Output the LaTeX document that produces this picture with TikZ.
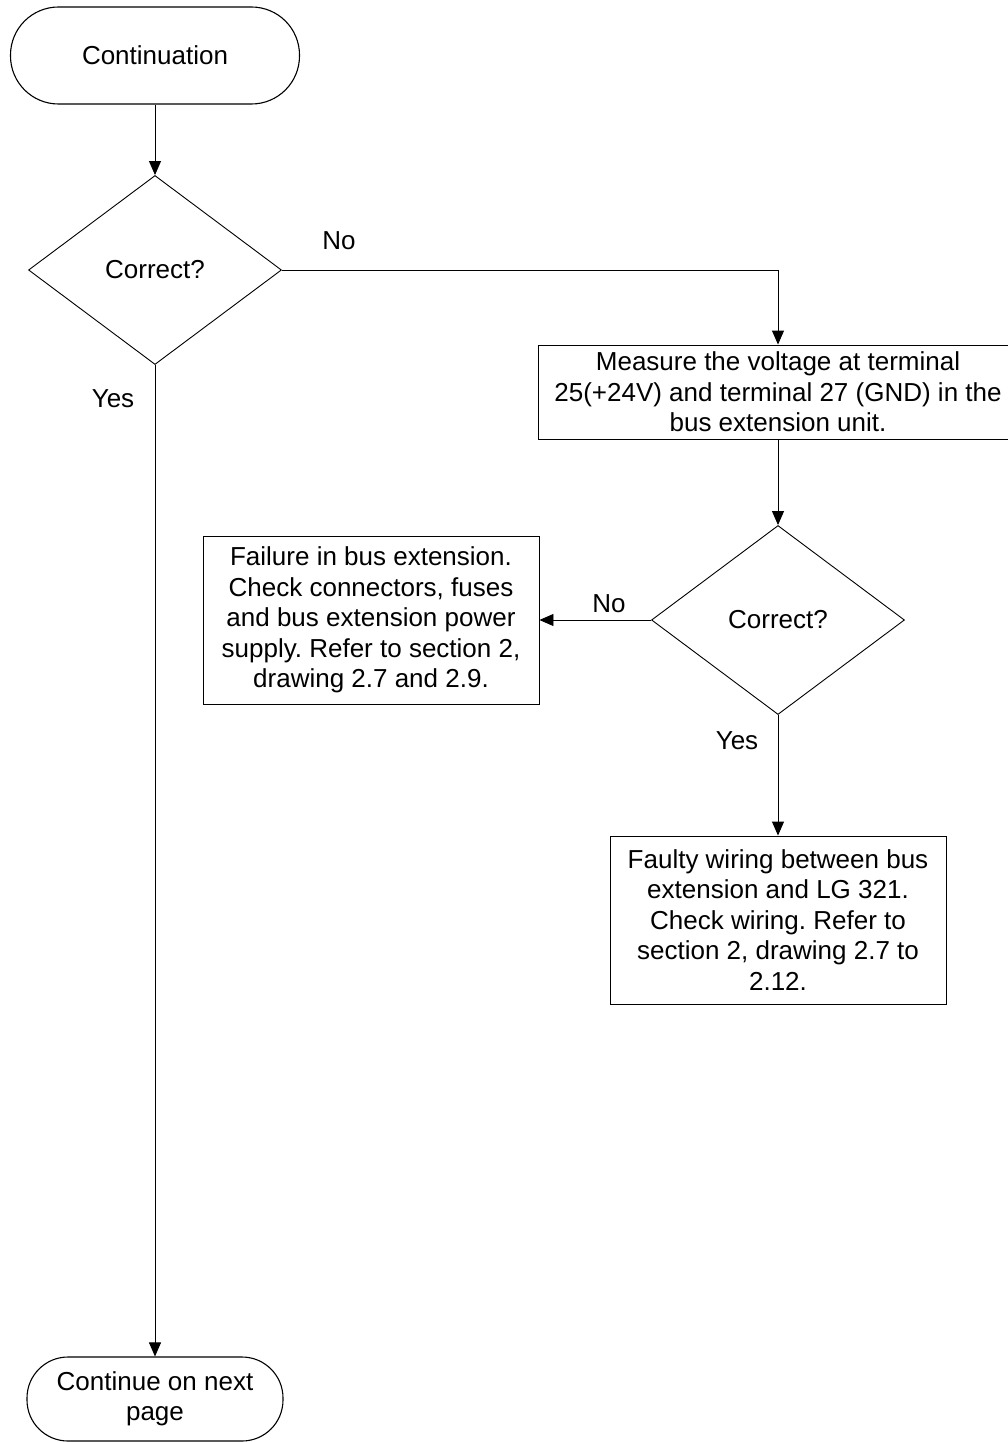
\documentclass[tikz,border=0pt]{standalone}
\usepackage{fontspec}
\setmainfont{Liberation Sans}
\usetikzlibrary{shapes.geometric,arrows.meta}
\frenchspacing

\begin{document}
\begin{tikzpicture}[x=1pt,y=-1pt,
  every node/.style={font=\fontsize{26}{30.5}\selectfont, inner sep=0pt},
  terminal/.style={draw, line width=1.1pt, rectangle, align=center},
  decision/.style={draw, line width=0.9pt, diamond, minimum width=253pt, minimum height=189pt},
  procbox/.style={draw, line width=0.9pt, rectangle, align=center},
  flow/.style={line width=0.9pt, -{Triangle[length=14pt,width=12pt]}},
  lbl/.style={anchor=center}
]
  \clip (0,0) rectangle (1008,1442);
  \fill[white] (0,0) rectangle (1008,1442);

  % start / end terminals
  \node[terminal, minimum width=289pt, minimum height=97pt, rounded corners=48pt]
    (start) at (155,55.5) {Continuation};
  \node[terminal, minimum width=256pt, minimum height=84pt, rounded corners=41pt]
    (next) at (155,1399) {Continue on next\\page};

  % decisions
  \node[decision] (d1) at (155,270) {Correct?};
  \node[decision] (d2) at (778,620) {Correct?};

  % process boxes
  \node[procbox, minimum width=480pt, minimum height=94pt] (meas) at (778,392)
    {Measure the voltage at terminal\\25(+24V) and terminal 27 (GND) in the\\bus extension unit.};
  \node[procbox, minimum width=336pt, minimum height=168pt] (fail) at (371,620)
    {Failure in bus extension.\\Check connectors, fuses\\and bus extension power\\supply. Refer to section 2,\\drawing 2.7 and 2.9.};
  \node[procbox, minimum width=336pt, minimum height=168pt] (wire) at (778,920)
    {Faulty wiring between bus\\extension and LG 321.\\Check wiring. Refer to\\section 2, drawing 2.7 to\\2.12.};

  % connectors
  \draw[flow] (start) -- (d1);
  \draw[flow] (d1.east) -| (meas.north);
  \draw[flow] (meas) -- (d2);
  \draw[flow] (d2.west) -- (fail.east);
  \draw[flow] (d2) -- (wire);
  \draw[flow] (d1) -- (next);

  % branch labels
  \node[lbl] (no1) at (339,241) {No};
  \node[lbl] (yes1) at (113,399) {Yes};
  \node[lbl] (no2) at (609,604) {No};
  \node[lbl] (yes2) at (737,741) {Yes};
\end{tikzpicture}
\end{document}
